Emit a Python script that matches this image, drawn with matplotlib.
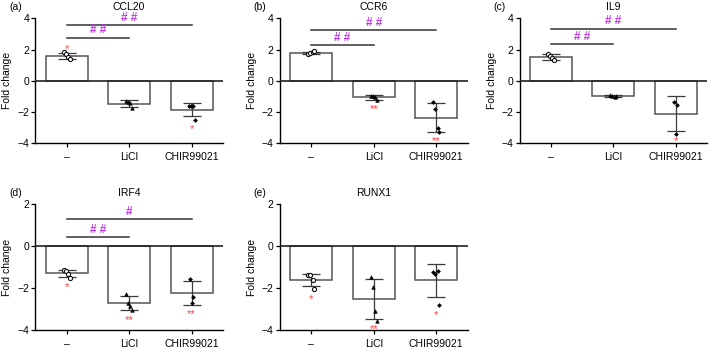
import matplotlib
matplotlib.use("Agg")
import matplotlib.pyplot as plt
import numpy as np

plt.rcParams['font.family'] = ['Liberation Sans', 'DejaVu Sans']

categories = ["–", "LiCl", "CHIR99021"]
panel_labels = ["(a)", "(b)", "(c)", "(d)", "(e)"]
genes = ["CCL20", "CCR6", "IL9", "IRF4", "RUNX1"]

# bar means
means_ccl20 = [1.59, -1.46, -1.84]
means_ccr6 = [1.79, -1.06, -2.37]
means_il9 = [1.51, -0.97, -2.10]
means_irf4 = [-1.30, -2.71, -2.24]
means_runx1 = [-1.60, -2.52, -1.63]

# SD
sd_ccl20 = [0.20, 0.22, 0.44]
sd_ccr6 = [0.08, 0.15, 0.92]
sd_il9 = [0.20, 0.07, 1.12]
sd_irf4 = [0.16, 0.34, 0.59]
sd_runx1 = [0.29, 0.96, 0.80]

# individual points
pts_ccl20 = [[1.82, 1.70, 1.55, 1.38], [-1.30, -1.35, -1.40, -1.75], [-1.60, -1.62, -1.60, -2.49]]
pts_ccr6 = [[1.72, 1.78, 1.84, 1.88], [-0.95, -0.97, -1.05, -1.25], [-1.38, -1.81, -3.04, -3.26]]
pts_il9 = [[1.70, 1.60, 1.45, 1.30], [-0.90, -0.95, -1.05, -0.95], [-1.33, -1.58, -3.39]]
pts_irf4 = [[-1.15, -1.20, -1.35, -1.50], [-2.27, -2.70, -2.85, -3.05], [-1.57, -2.44, -2.71]]
pts_runx1 = [[-1.38, -1.38, -1.62, -2.02], [-1.48, -1.97, -3.08, -3.57], [-1.21, -1.32, -1.16, -2.83]]

# red asterisks vs. baseline: (category index, y value, text)
stars_ccl20 = [(0, 2.06, "*"), (2, -3.10, "*")]
stars_ccr6 = [(1, -1.81, "**"), (2, -3.83, "**")]
stars_il9 = [(2, -3.88, "*")]
stars_irf4 = [(0, -1.97, "*"), (1, -3.51, "**"), (2, -3.24, "**")]
stars_runx1 = [(0, -2.52, "*"), (1, -3.95, "**"), (2, -3.27, "*")]

# significance brackets: (x end category, line y, text)
sig_ccl20 = [(1, 2.77, "# #"), (2, 3.57, "# #")]
sig_ccr6 = [(1, 2.30, "# #"), (2, 3.26, "# #")]
sig_il9 = [(1, 2.33, "# #"), (2, 3.34, "# #")]
sig_irf4 = [(1, 0.43, "# #"), (2, 1.29, "#")]
sig_runx1 = []

ylims = [(-4, 4), (-4, 4), (-4, 4), (-4, 2), (-4, 2)]
yticks = [[-4, -2, 0, 2, 4]] * 3 + [[-4, -2, 0, 2]] * 2

means = [means_ccl20, means_ccr6, means_il9, means_irf4, means_runx1]
sds = [sd_ccl20, sd_ccr6, sd_il9, sd_irf4, sd_runx1]
pts = [pts_ccl20, pts_ccr6, pts_il9, pts_irf4, pts_runx1]
stars = [stars_ccl20, stars_ccr6, stars_il9, stars_irf4, stars_runx1]
sigs = [sig_ccl20, sig_ccr6, sig_il9, sig_irf4, sig_runx1]

W, H = 709, 351
fig = plt.figure(figsize=(W / 100, H / 100), dpi=100)

lefts = [35.4, 280, 519.5, 35.4, 280]
tops = [18.3, 18.3, 18.3, 204.3, 204.3]
heights = [125, 125, 125, 125.7, 125.7]
aw = 187.5

purple = "#c23cf0"
red = "#ff4040"
fs = 7.5
markers = [dict(marker="o", mfc="white", mec="#111111", ms=3.0, mew=0.8),
           dict(marker="^", mfc="black", mec="black", ms=2.6, mew=0.4),
           dict(marker="D", mfc="black", mec="black", ms=2.0, mew=0.4)]
offs = [-0.05, -0.015, 0.02, 0.05]

x = np.arange(len(categories))
for i in range(5):
    l, t, h = lefts[i], tops[i], heights[i]
    ax = fig.add_axes([l / W, (H - t - h) / H, aw / W, h / H])
    ax.bar(x, means[i], width=0.67, color="white", edgecolor="#555555", linewidth=1.1, zorder=2)
    ax.axhline(0, color="#222222", lw=1.2, zorder=3)
    ax.errorbar(x, means[i], yerr=sds[i], fmt="none", ecolor="#3a3a3a", elinewidth=0.9,
                capsize=6.5, capthick=0.9, zorder=4)
    for j, grp in enumerate(pts[i]):
        n = len(grp)
        o = offs if n == 4 else [-0.03, 0.02, 0.0]
        ax.plot(x[j] + np.array(o[:n]), grp, ls="none", zorder=5, **markers[j])
    for (c, yv, s) in stars[i]:
        ax.text(x[c], yv, s, color=red, ha="center", va="center", fontsize=8,
                zorder=6, clip_on=False)
    span = ylims[i][1] - ylims[i][0]
    for (c2, yv, s) in sigs[i]:
        ax.plot([x[0], x[c2]], [yv, yv], color="#333333", lw=1.1, clip_on=False)
        ax.text((x[0] + x[c2]) / 2, yv + 0.01 * span,
                s, color=purple, ha="center", va="bottom", fontsize=8.5,
                fontweight="bold", clip_on=False)
    ax.set_xlim(-0.5, 2.5)
    ax.set_ylim(*ylims[i])
    ax.set_yticks(yticks[i])
    ax.set_xticks(x)
    ax.set_xticklabels(categories, fontsize=fs)
    ax.tick_params(axis="y", labelsize=fs, length=3, width=0.9, pad=1.5)
    ax.tick_params(axis="x", length=3, width=0.9, pad=3.5)
    for sp in ["top", "right"]:
        ax.spines[sp].set_visible(False)
    for sp in ["left", "bottom"]:
        ax.spines[sp].set_linewidth(1.0)
    ax.set_ylabel("Fold change", fontsize=fs, labelpad=3.5)
    ax.set_title(genes[i], fontsize=fs, pad=6)
    fig.text((l - 20) / W, 1 - (t - 11) / H, panel_labels[i], fontsize=fs, ha="center", va="center")

fig.savefig("out.png", dpi=100)
